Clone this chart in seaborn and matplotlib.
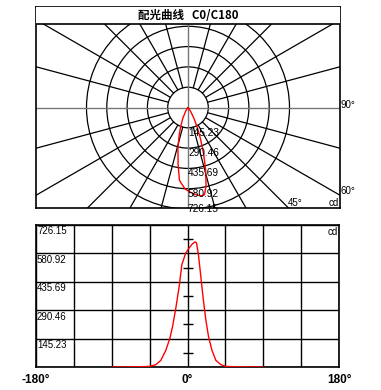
import numpy as np
import pandas as pd
import matplotlib
matplotlib.use("Agg")
import matplotlib.pyplot as plt
from matplotlib.patches import Circle, Rectangle
import seaborn as sns

# ------------------------------------------------------------------ #
#  Data (C0/C180 plane)                        #
# ------------------------------------------------------------------ #
angles = [-90, -60, -45.5, -37.6, -31.7, -25.7, -21, -17.8, -13.9, -9.9, -6.7,
          -5.1, -2, 2, 5.9, 9.1, 10.7, 13, 15.8, 18.6, 21.8, 25, 29, 33.7,
          39.6, 45.5, 60, 90]
candela = [0, 1, 3, 12, 34, 86, 146, 206, 300, 412, 524,
           544, 584, 609, 630, 640, 635, 575, 463, 352, 240, 155, 86, 34,
           12, 3, 1, 0]

ring_values = [145.23, 290.46, 435.69, 580.92, 726.15]
ring_labels = ["145.23", "290.46", "435.69", "580.92", "726.15"]
spoke_angles = [15, 30, 45, 60, 75, 105, 120, 135, 150, 165,
                195, 210, 225, 240, 255, 285, 300, 315, 330, 345]
x_grid = [-180, -135, -90, -45, 0, 45, 90, 135, 180]
x_labels = ["-180°", "", "", "", "0°", "", "", "", "180°"]
center_ticks = [72.615, 217.845, 363.075, 508.305, 653.535]
title = "配光曲线   C0/C180"

df = pd.DataFrame({"angle": angles, "cd": candela})
rad = np.deg2rad(df["angle"])
df["px"] = df["cd"] * np.sin(rad)
df["py"] = -df["cd"] * np.cos(rad)

sns.set_theme(style="white")
plt.rcParams["font.family"] = ["Liberation Sans", "DejaVu Sans"]
plt.rcParams["text.color"] = "black"
plt.rcParams["xtick.color"] = "black"
plt.rcParams["ytick.color"] = "black"

W, H = 381, 390
fig = plt.figure(figsize=(W / 100, H / 100), dpi=100)

# ------------------------------------------------------------------ #
#  Polar panel (drawn in cartesian cd units)                          #
# ------------------------------------------------------------------ #
ax1 = fig.add_axes([36 / W, (H - 208) / H, 304 / W, 201 / H])
s = 145.23 / 20.3          # cd per pixel
ax1.set_xlim(-152 * s, 152 * s)
ax1.set_ylim(-100.5 * s, 100.5 * s)
ax1.set_xticks([])
ax1.set_yticks([])
for sp in ax1.spines.values():
    sp.set_color("black")
    sp.set_linewidth(1.2)

for r in ring_values:
    ax1.add_patch(Circle((0, 0), r, fill=False, ec="black", lw=0.9, zorder=1))
r0 = ring_values[0]
for a in spoke_angles:
    t = np.deg2rad(a)
    ax1.plot([r0 * np.sin(t), 3000 * np.sin(t)], [-r0 * np.cos(t), -3000 * np.cos(t)],
             color="black", lw=0.9, zorder=1)
ax1.axhline(0, color="#777777", lw=1.0, zorder=1)
ax1.axvline(0, color="#777777", lw=1.0, zorder=1)

sns.lineplot(data=df, x="px", y="py", sort=False, estimator=None, color="red",
             lw=1.0, ax=ax1, zorder=3)
ax1.set_xlabel("")
ax1.set_ylabel("")

for v, lab in zip(ring_values, ring_labels):
    ax1.text(0, -min(v, 96.5 * s), lab, ha="left", va="top", fontsize=7.3, zorder=4)

# title strip
ax1.add_patch(Rectangle((0, 1 - 17 / 201), 1, 17 / 201, transform=ax1.transAxes,
                        fc="white", ec="none", zorder=5))
ax1.axhline(83.5 * s, color="black", lw=1.2, zorder=6)
ax1.text(0.5, 1 - 8.7 / 201, title, transform=ax1.transAxes, ha="center", va="center",
         fontsize=8.3, fontweight="bold",
         family=["Noto Sans CJK SC", "Liberation Sans"], zorder=7)

ax1.text(1.003, 0.5 + 3 / 201, "90°", transform=ax1.transAxes, ha="left", va="center",
         fontsize=7, clip_on=False)
ax1.text(1.003, 0.5 - 84 / 201, "60°", transform=ax1.transAxes, ha="left", va="center",
         fontsize=7, clip_on=False)
ax1.text(252 / 304, 0.5 - 96 / 201, "45°", transform=ax1.transAxes, ha="left",
         va="center", fontsize=7)
ax1.text(0.995, 0.5 - 96 / 201, "cd", transform=ax1.transAxes, ha="right",
         va="center", fontsize=7)

# ------------------------------------------------------------------ #
#  Cartesian panel                                                    #
# ------------------------------------------------------------------ #
ax2 = fig.add_axes([36 / W, (H - 367) / H, 303 / W, 142 / H])
sns.lineplot(data=df, x="angle", y="cd", color="red", lw=1.0, ax=ax2, zorder=3)
ax2.set_xlim(-180, 180)
ax2.set_ylim(0, ring_values[-1])
ax2.set_xticks(x_grid)
ax2.set_xticklabels(x_labels, fontsize=8.5, fontweight="bold")
ax2.set_yticks([0] + ring_values)
ax2.set_yticklabels([])
ax2.tick_params(length=0, pad=5)
ax2.grid(True, color="black", lw=1.0)
ax2.set_axisbelow(True)
ax2.set_xlabel("")
ax2.set_ylabel("")
for sp in ax2.spines.values():
    sp.set_color("black")
    sp.set_linewidth(1.2)

ax2.plot(np.zeros(len(center_ticks)), center_ticks, ls="none", marker="_",
         ms=7.5, mew=1.0, color="black", zorder=2)

for v, lab in zip(ring_values, ring_labels):
    ax2.annotate(lab, xy=(-180, v), xytext=(1, -1.5), textcoords="offset pixels",
                 ha="left", va="top", fontsize=7)
ax2.text(0.997, 0.985, "cd", transform=ax2.transAxes, ha="right", va="top", fontsize=7)

fig.savefig("out.png", dpi=100)
